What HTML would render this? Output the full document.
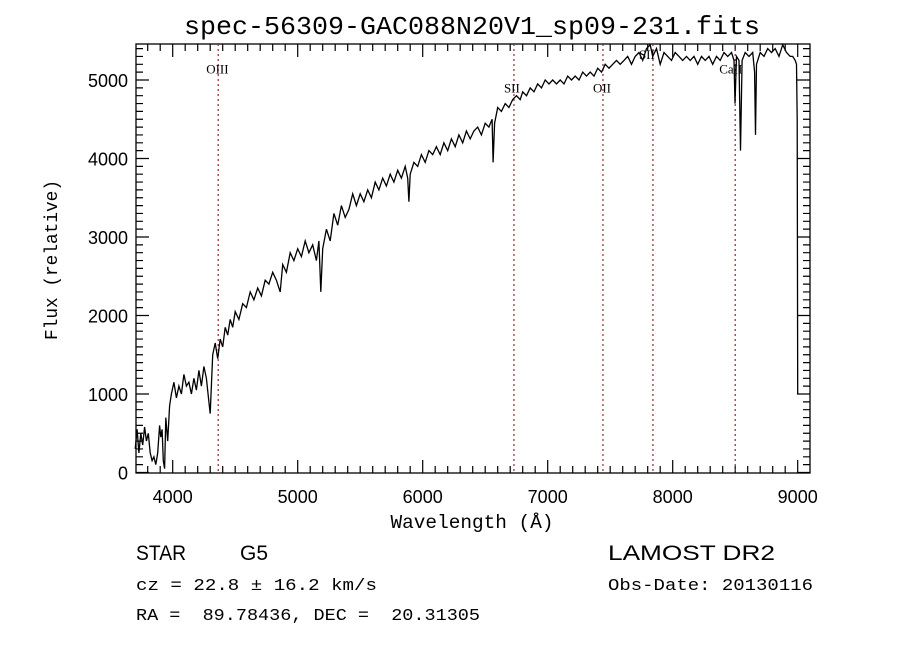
<!DOCTYPE html>
<html><head><meta charset="utf-8"><style>
html,body{margin:0;padding:0;background:#fff;}
svg{display:block;}
text{white-space:pre;}
</style></head><body>
<svg id="chart" width="900" height="649" viewBox="0 0 900 649" xmlns="http://www.w3.org/2000/svg">
<rect width="900" height="649" fill="#fff"/>
<text x="472" y="34" text-anchor="middle" font-family="Liberation Mono, monospace" font-size="26" textLength="576" lengthAdjust="spacingAndGlyphs">spec-56309-GAC088N20V1_sp09-231.fits</text>
<g id="axes"></g>
<g id="lines"></g>
<g id="series"></g>
<text x="472" y="528" text-anchor="middle" font-family="Liberation Mono, monospace" font-size="19" textLength="163" lengthAdjust="spacingAndGlyphs">Wavelength (Å)</text>
<text transform="translate(57,260) rotate(-90)" text-anchor="middle" font-family="Liberation Mono, monospace" font-size="18" textLength="160" lengthAdjust="spacingAndGlyphs">Flux (relative)</text>
<text x="136" y="560" font-family="Liberation Sans, sans-serif" font-size="21" textLength="50" lengthAdjust="spacingAndGlyphs">STAR</text>
<text x="240" y="560" font-family="Liberation Sans, sans-serif" font-size="21" textLength="28" lengthAdjust="spacingAndGlyphs">G5</text>
<text x="608" y="560" font-family="Liberation Sans, sans-serif" font-size="21" textLength="167" lengthAdjust="spacingAndGlyphs">LAMOST DR2</text>
<text x="136" y="590" font-family="Liberation Mono, monospace" font-size="17" textLength="241" lengthAdjust="spacingAndGlyphs">cz = 22.8 ± 16.2 km/s</text>
<text x="608" y="590" font-family="Liberation Mono, monospace" font-size="17" textLength="205" lengthAdjust="spacingAndGlyphs">Obs-Date: 20130116</text>
<text x="136" y="620" xml:space="preserve" font-family="Liberation Mono, monospace" font-size="17" textLength="344" lengthAdjust="spacingAndGlyphs">RA =  89.78436, DEC =  20.31305</text>
</svg>
<script>
const wave = [3700,3715,3730,3745,3760,3775,3790,3805,3820,3835,3850,3865,3880,3895,3905,3915,3925,3935,3945,3960,3975,3990,4010,4030,4050,4070,4090,4110,4130,4150,4170,4190,4210,4230,4250,4270,4290,4300,4320,4340,4360,4380,4400,4420,4440,4460,4480,4500,4530,4560,4590,4620,4650,4680,4710,4740,4770,4800,4830,4860,4880,4910,4940,4970,5000,5030,5060,5090,5120,5150,5170,5185,5200,5230,5260,5290,5320,5350,5380,5410,5440,5470,5500,5530,5560,5590,5620,5650,5680,5710,5740,5770,5800,5830,5860,5880,5890,5900,5930,5960,5990,6020,6050,6080,6110,6140,6170,6200,6230,6260,6290,6320,6350,6380,6410,6440,6470,6500,6530,6555,6563,6575,6600,6630,6660,6690,6720,6750,6780,6800,6830,6860,6890,6920,6950,6980,7010,7040,7070,7100,7130,7160,7190,7220,7250,7280,7310,7340,7370,7400,7430,7460,7490,7520,7550,7580,7610,7640,7670,7700,7730,7760,7790,7820,7840,7870,7900,7930,7960,7990,8020,8050,8080,8110,8140,8170,8200,8230,8260,8290,8320,8350,8380,8410,8440,8470,8490,8498,8510,8530,8542,8555,8580,8610,8640,8655,8662,8670,8700,8730,8760,8790,8820,8850,8880,8910,8940,8960,8980,8990,8996,9000];
const flux = [300,550,250,500,350,580,400,500,250,150,200,100,250,600,450,550,150,50,700,400,850,1000,1150,950,1100,1000,1250,1100,1150,1000,1200,1050,1300,1100,1350,1200,900,750,1500,1650,1450,1700,1600,1850,1750,1950,1850,2050,1950,2150,2100,2300,2200,2350,2250,2450,2400,2550,2450,2300,2650,2550,2800,2700,2850,2750,2950,2800,2900,2700,2950,2300,2850,3100,2950,3300,3150,3400,3250,3350,3550,3400,3550,3450,3600,3500,3700,3600,3750,3650,3800,3700,3850,3750,3900,3750,3450,3800,3950,3900,4050,3950,4100,4050,4150,4050,4200,4100,4250,4150,4300,4200,4350,4250,4350,4400,4300,4450,4400,4500,3950,4450,4650,4600,4700,4650,4750,4800,4750,4850,4800,4900,4850,4950,4900,5000,4950,5000,4950,5000,4950,5050,5000,5050,5000,5100,5050,5100,5050,5150,5100,5200,5150,5200,5250,5200,5250,5300,5200,5300,5350,5250,5400,5450,5300,5400,5200,5350,5300,5250,5350,5300,5250,5300,5250,5300,5200,5300,5250,5300,5200,5300,5250,5350,5300,5350,5250,4700,5300,5250,4100,5250,5350,5300,5350,5100,4300,5200,5350,5300,5400,5350,5400,5300,5450,5350,5300,5300,5250,5200,4500,1000];
const xTicks = [4000,5000,6000,7000,8000,9000];
const yTicks = [0,1000,2000,3000,4000,5000];
const lineWaves = [4364,6730,7442,7842,8500];
const lineNames = ["OIII","SII","OII","SII","CaII"];
const lineLabelY = [5080,4840,4840,5270,5080];
const lineLabelDx = [-12,-10,-10,-14,-16];

const L=136,R=810,T=44,B=473;
const X = w => 172.7 + (w-4000)*0.125;
const Y = f => 472.5 - f*0.0785;
const NS="http://www.w3.org/2000/svg";
function mk(tag, attrs, parent){const e=document.createElementNS(NS,tag);for(const k in attrs)e.setAttribute(k,attrs[k]);parent.appendChild(e);return e;}
const axes=document.getElementById('axes');
const box=mk('rect',{x:L,y:T,width:R-L,height:B-T,fill:'none',stroke:'#000','stroke-width':1.3},axes);


let d='';
for(let w=3700;w<=9100;w+=100){const x=X(w);if(x<L||x>R)continue;const len=(w%1000===0)?13:7;d+=`M${x},${B}v${-len}M${x},${T}v${len}`;}
for(let f=-100;f<=5400;f+=100){const y=Y(f);if(y<T||y>B)continue;const len=(f%1000===0)?13:7;d+=`M${L},${y}h${len}M${R},${y}h${-len}`;}
const tk=mk('path',{d:d,stroke:'#000','stroke-width':1.2,fill:'none'},axes);


xTicks.forEach(v=>{const t=mk('text',{x:X(v),y:503,'text-anchor':'middle','font-family':'Liberation Sans, sans-serif','font-size':18},axes);t.textContent=v;

});
yTicks.forEach(v=>{const t=mk('text',{x:128,y:Y(v)+7,'text-anchor':'end','font-family':'Liberation Sans, sans-serif','font-size':18},axes);t.textContent=v;

});
const lg=document.getElementById('lines');
lineWaves.forEach((w,i)=>{const ln=mk('line',{x1:X(w),x2:X(w),y1:T,y2:B,stroke:'#8b2a2a','stroke-width':1.2,'stroke-dasharray':'2,3'},lg);


const t=mk('text',{x:X(w)+lineLabelDx[i],y:Y(lineLabelY[i]),'font-family':'Liberation Serif, serif','font-size':13},lg);t.textContent=lineNames[i];

});
const sp=wave.map((w,i)=>(i?'L':'M')+X(w).toFixed(1)+','+Y(flux[i]).toFixed(1)).join('');
const p=mk('path',{d:sp,fill:'none',stroke:'#000','stroke-width':1.3,'stroke-linejoin':'miter'},document.getElementById('series'));


</script>
</body></html>
